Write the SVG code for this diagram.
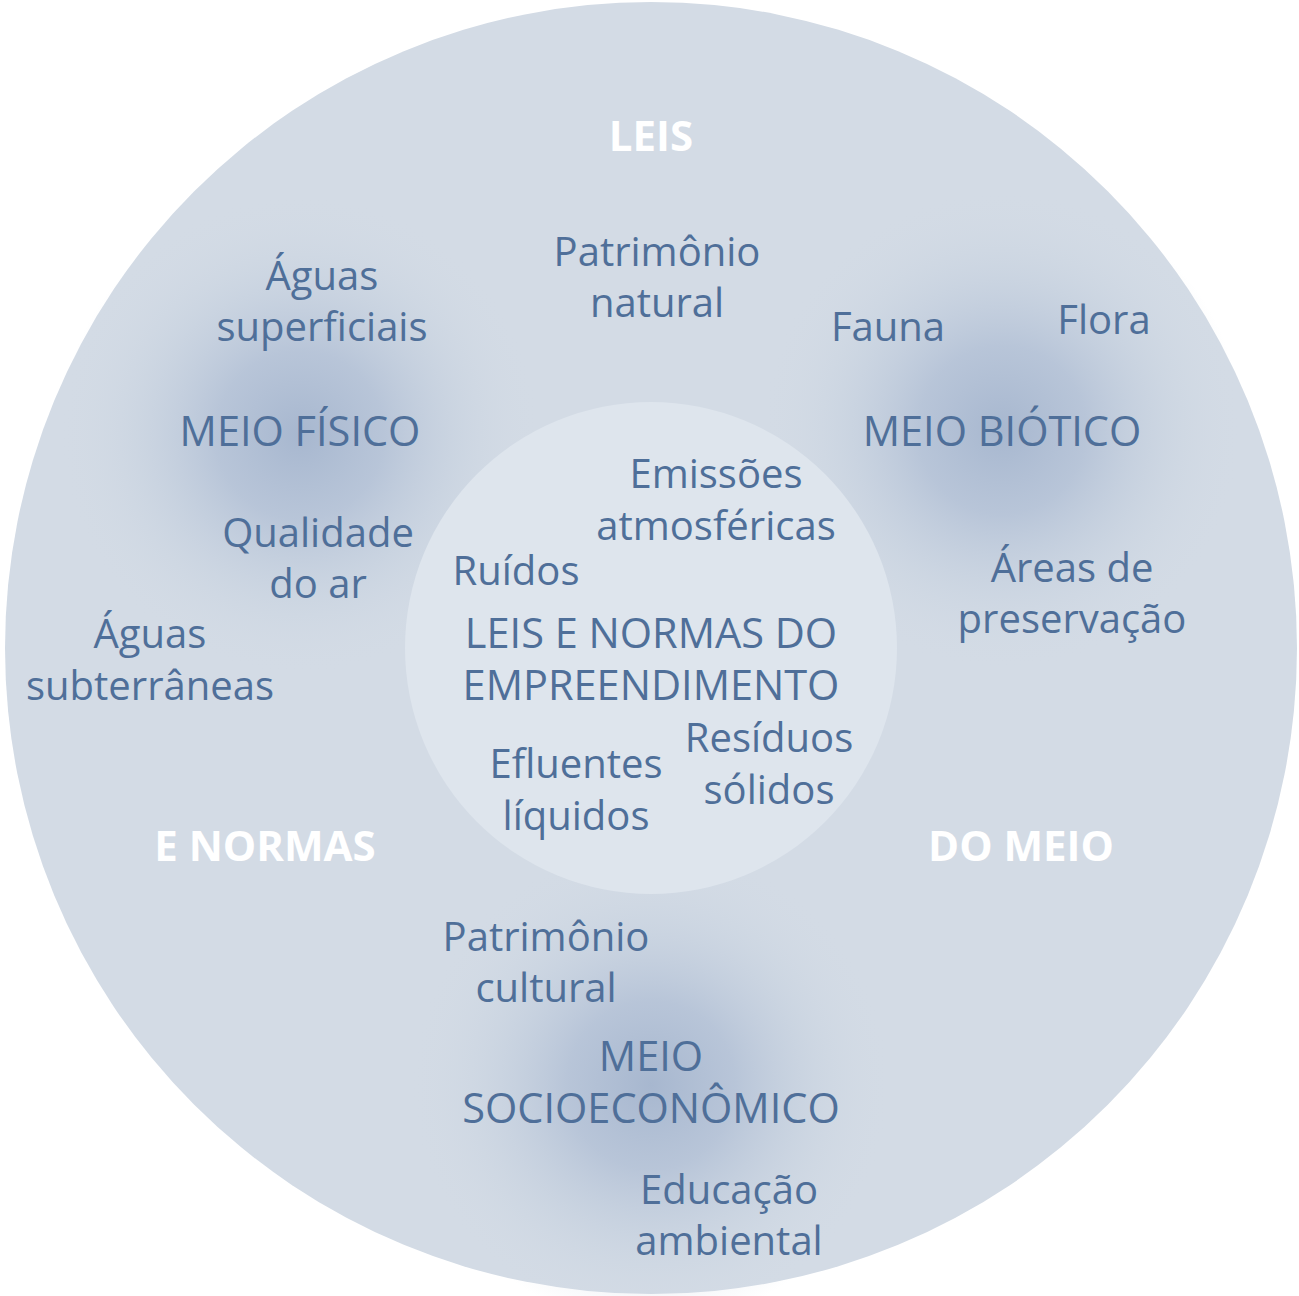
<svg xmlns="http://www.w3.org/2000/svg" width="1299" height="1296" viewBox="0 0 1299 1296">
<defs>
<radialGradient id="blob">
<stop offset="0" stop-color="#a7b7cf" stop-opacity="1"/>
<stop offset="0.35" stop-color="#b3c1d6" stop-opacity="0.85"/>
<stop offset="0.7" stop-color="#c6d1df" stop-opacity="0.45"/>
<stop offset="1" stop-color="#d3dbe5" stop-opacity="0"/>
</radialGradient>
<style>
.t{font-family:"Open Sans","Noto Sans","DejaVu Sans",sans-serif;font-size:40px;fill:#4f6f99;text-anchor:middle}
.c{font-size:41.5px}
.w{font-family:"Open Sans","Noto Sans","DejaVu Sans",sans-serif;font-size:42px;font-weight:bold;fill:#ffffff;text-anchor:middle}
</style>
</defs>
<g id="outer">
<circle cx="651" cy="648" r="646" fill="#d3dbe5"/>
<text class="w" x="651" y="151">LEIS</text>
<text class="w" x="265" y="861">E NORMAS</text>
<text class="w" x="1021" y="861">DO MEIO</text>
</g>
<g id="meio-fisico">
<circle cx="300" cy="435" r="240" fill="url(#blob)"/>
<text class="t c" x="300" y="446">MEIO FÍSICO</text>
</g>
<g id="meio-biotico">
<circle cx="1002" cy="430" r="240" fill="url(#blob)"/>
<text class="t c" x="1002" y="446">MEIO BIÓTICO</text>
</g>
<g id="meio-socio">
<circle cx="651" cy="1085" r="240" fill="url(#blob)"/>
<text class="t c" x="651" y="1071">MEIO</text>
<text class="t c" x="651" y="1123">SOCIOECONÔMICO</text>
</g>
<g id="inner">
<circle cx="651" cy="648" r="246" fill="#dee5ed"/>
<text class="t c" x="651" y="648">LEIS E NORMAS DO</text>
<text class="t c" x="651" y="700">EMPREENDIMENTO</text>
</g>
<g id="items">
<text class="t" x="657" y="266">Patrimônio</text>
<text class="t" x="657" y="317">natural</text>
<text class="t" x="322" y="290">Águas</text>
<text class="t" x="322" y="341">superficiais</text>
<text class="t" x="888" y="341">Fauna</text>
<text class="t" x="1104" y="334">Flora</text>
<text class="t" x="716" y="488">Emissões</text>
<text class="t" x="716" y="540">atmosféricas</text>
<text class="t" x="318" y="547">Qualidade</text>
<text class="t" x="318" y="598">do ar</text>
<text class="t" x="516" y="585">Ruídos</text>
<text class="t" x="1072" y="582">Áreas de</text>
<text class="t" x="1072" y="633">preservação</text>
<text class="t" x="150" y="648">Águas</text>
<text class="t" x="150" y="700">subterrâneas</text>
<text class="t" x="769" y="752">Resíduos</text>
<text class="t" x="769" y="804">sólidos</text>
<text class="t" x="576" y="778">Efluentes</text>
<text class="t" x="576" y="830">líquidos</text>
<text class="t" x="546" y="951">Patrimônio</text>
<text class="t" x="546" y="1002">cultural</text>
<text class="t" x="729" y="1204">Educação</text>
<text class="t" x="729" y="1255">ambiental</text>
</g>
<g id="connectors"/>
</svg>
